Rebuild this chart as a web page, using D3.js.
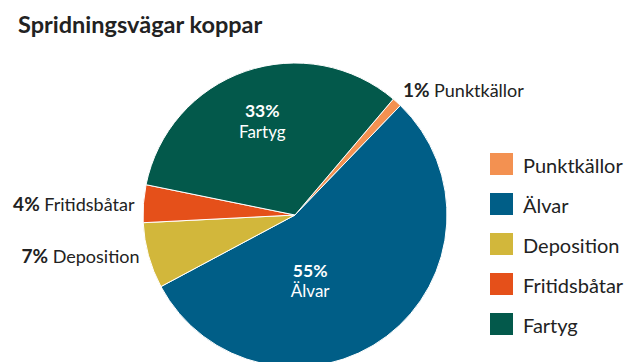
<!DOCTYPE html>
<html>
<head>
<meta charset="utf-8">
<script src="https://cdn.jsdelivr.net/npm/d3@7"></script>
<style>
  html, body { margin: 0; padding: 0; background: #fff; }
  svg { display: block; font-family: "Lato", "Open Sans", sans-serif; }
</style>
</head>
<body>
<svg id="chart" width="629" height="362"></svg>
<script>
// Spridningsvägar för koppar, andel i procent
const categories = ["Punktkällor", "Älvar", "Deposition", "Fritidsbåtar", "Fartyg"];
const values = [1, 55, 7, 4, 33];
const colors = ["#F39151", "#005E87", "#D2B73B", "#E5501A", "#03594B"];
const title = "Spridningsvägar koppar";

const data = categories.map((c, i) => ({ name: c, value: values[i], color: colors[i] }));

const svg = d3.select("#chart");
const cx = 295, cy = 215, R = 152;

svg.append("text")
  .attr("x", 18).attr("y", 33)
  .attr("font-size", 23.5).attr("font-weight", 700)
  .attr("fill", "#222")
  .text(title);

const start = 40.3 * Math.PI / 180;
const pie = d3.pie().value(d => d.value).sort(null)
  .startAngle(start).endAngle(start + 2 * Math.PI);
const arcs = pie(data);
const arc = d3.arc().innerRadius(0).outerRadius(R);

const g = svg.append("g").attr("transform", `translate(${cx},${cy})`);
g.selectAll("path").data(arcs).join("path")
  .attr("d", arc)
  .attr("fill", d => d.data.color)
  .attr("stroke", "#fff")
  .attr("stroke-width", 1);

// Labels inside the two large slices (angle shift in degrees, radius)
const inside = { "Fartyg": { da: 0, r: 100 }, "Älvar": { da: 24, r: 67 } };
arcs.filter(d => inside[d.data.name]).forEach(d => {
  const o = inside[d.data.name];
  const a = (d.startAngle + d.endAngle) / 2 + o.da * Math.PI / 180;
  const x = o.r * Math.sin(a), y = -o.r * Math.cos(a);
  g.append("text").attr("text-anchor", "middle").attr("fill", "#fff")
    .attr("x", x).attr("y", y - 3.5)
    .attr("font-size", 17.5).attr("font-weight", 700).text(d.data.value + "%");
  g.append("text").attr("text-anchor", "middle").attr("fill", "#fff")
    .attr("x", x).attr("y", y + 17)
    .attr("font-size", 17).text(d.data.name);
});

// Labels outside the small slices
arcs.filter(d => !inside[d.data.name]).forEach(d => {
  const a = (d.startAngle + d.endAngle) / 2;
  const ox = R * Math.sin(a), oy = -R * Math.cos(a);
  const right = ox > 0;
  const x = right ? ox + 6 : ox - 9;
  const y = right ? oy - 5 : oy + 7;
  const t = g.append("text")
    .attr("x", x).attr("y", y)
    .attr("text-anchor", right ? "start" : "end")
    .attr("fill", "#222");
  t.append("tspan").attr("font-size", 19).attr("font-weight", 700).text(d.data.value + "% ");
  t.append("tspan").attr("font-size", 18).text(d.data.name);
});

// Legend
const legend = svg.append("g").attr("transform", "translate(490,153)");
const row = legend.selectAll("g").data(data).join("g")
  .attr("transform", (d, i) => `translate(0,${i * 40})`);
row.append("rect").attr("width", 23).attr("height", 22).attr("fill", d => d.color);
row.append("text").attr("x", 33).attr("y", 20)
  .attr("font-size", 20).attr("fill", "#222")
  .text(d => d.name);
</script>
</body>
</html>
